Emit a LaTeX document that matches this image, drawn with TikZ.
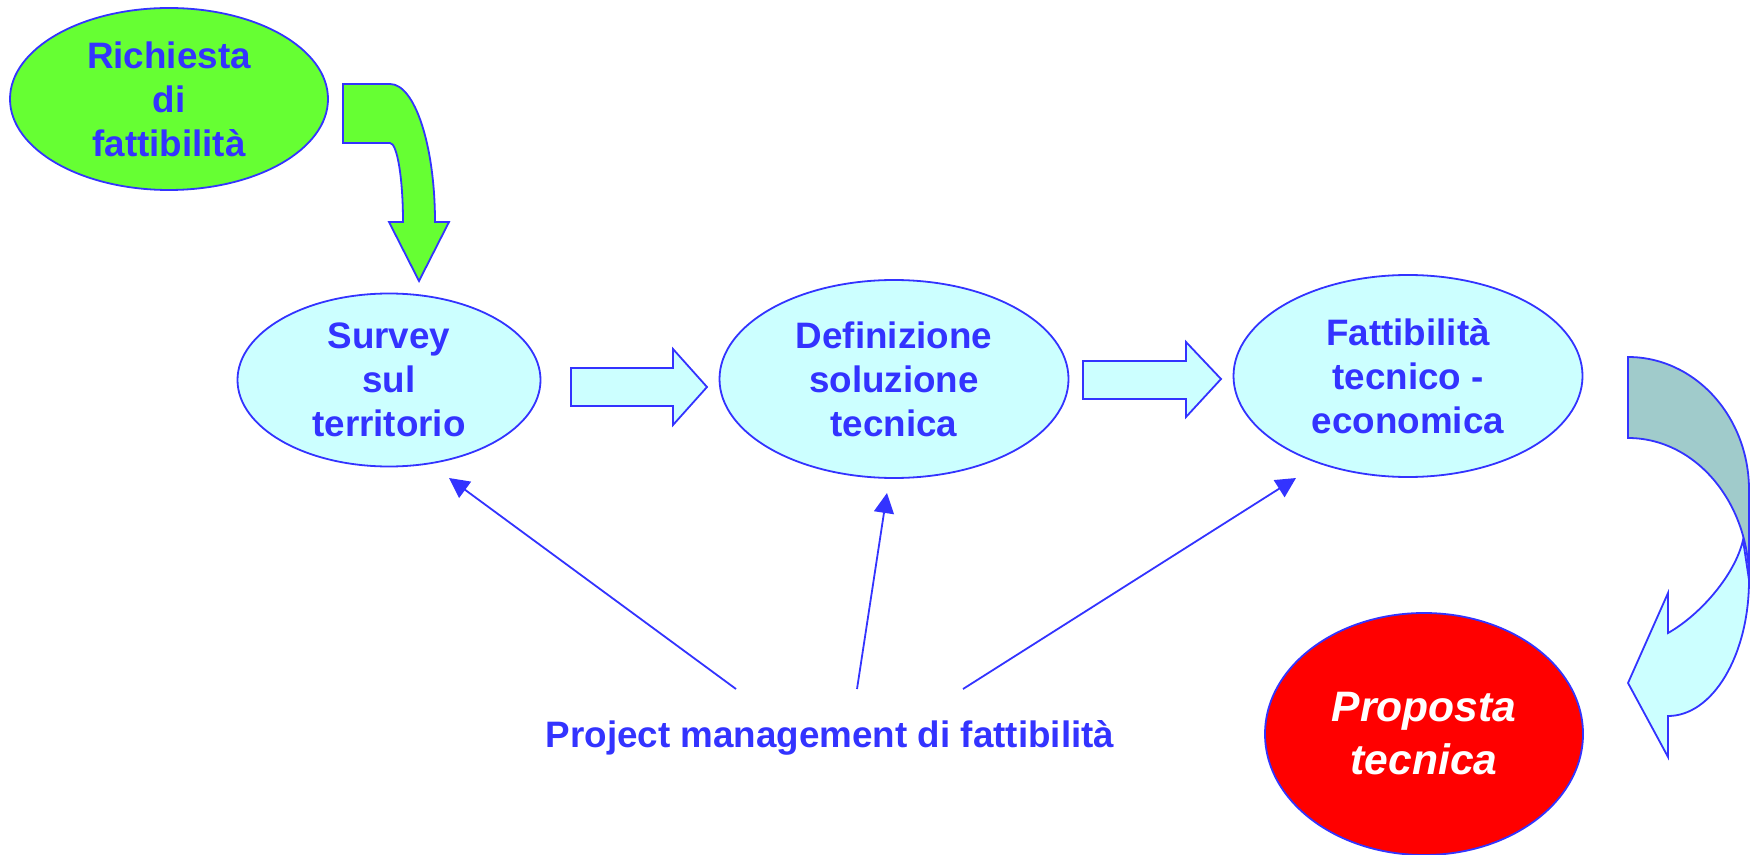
\documentclass[tikz,border=0pt]{standalone}
\usepackage{fontspec}
\setmainfont{Liberation Sans}
\usetikzlibrary{shapes.geometric,arrows.meta}
\definecolor{pmblue}{RGB}{51,51,255}
\definecolor{reqgreen}{RGB}{102,255,51}
\definecolor{stepcyan}{RGB}{204,255,255}
\definecolor{backteal}{RGB}{160,203,203}
\definecolor{propred}{RGB}{255,0,0}
\tikzset{
    bubble/.style={ellipse, draw=pmblue, line width=0.9pt, fill=stepcyan,
                   inner sep=0pt, align=center, text=pmblue,
                   font=\fontsize{18.4}{22}\selectfont\bfseries},
    bigarrow/.style={draw=pmblue, line width=0.9pt, line join=miter},
    pmarrow/.style={draw=pmblue, line width=0.9pt,
                    -{Triangle[length=10pt,width=10pt]}}
}

\begin{document}
\begin{tikzpicture}[x=0.5pt,y=0.5pt]
    \useasboundingbox (0,0) rectangle (1754,-855);
    % the phases
    \node[bubble, fill=reqgreen, minimum width=159pt, minimum height=91pt] (req) at (169,-99) {Richiesta\\di\\fattibilità};
    \node[bubble, minimum width=151.5pt, minimum height=86.5pt] (survey) at (389,-380) {Survey\\sul\\territorio};
    \node[bubble, minimum width=174.5pt, minimum height=99pt] (sol) at (894,-379) {Definizione\\soluzione\\tecnica};
    \node[bubble, minimum width=174.5pt, minimum height=101pt] (fatt) at (1408,-376) {Fattibilità\\tecnico -\\economica};
    \node[bubble, fill=propred, text=white, minimum width=159pt, minimum height=121pt,
          font=\fontsize{21.3}{26.5}\selectfont\bfseries\itshape] (prop) at (1424,-734) {Proposta\\tecnica};
    \node[text=pmblue, font=\fontsize{18.4}{22}\selectfont\bfseries] (pm) at (830,-738) {Project management di fattibilità};
    % green bent arrow
    \draw[bigarrow, fill=reqgreen] (343,-84) -- (390,-84) arc[start angle=90, end angle=0, x radius=45, y radius=138]
        -- (449,-222) -- (419,-281) -- (389,-222) -- (403,-222)
        arc[start angle=0, end angle=90, x radius=13, y radius=79] -- (343,-143) -- cycle;
    % straight block arrows
    \draw[bigarrow, fill=stepcyan] (571,-368) -- (673,-368) -- (673,-349) -- (707,-387) -- (673,-425) -- (673,-406) -- (571,-406) -- cycle;
    \draw[bigarrow, fill=stepcyan] (1083,-361) -- (1186,-361) -- (1186,-342) -- (1221,-379) -- (1186,-417) -- (1186,-399) -- (1083,-399) -- cycle;
    % curved arrow down to the proposal
    \draw[bigarrow, fill=stepcyan] (1743,-540) .. controls (1735,-575) and (1700,-615) .. (1668,-633)
        -- (1668,-593) -- (1628,-683) -- (1668,-757) -- (1668,-716)
        arc[start angle=-90, end angle=0, x radius=81, y radius=136] -- cycle;
    \draw[bigarrow, fill=backteal] (1628,-357) arc[start angle=90, end angle=0, x radius=121, y radius=133]
        -- (1749,-580) arc[start angle=0, end angle=90, x radius=121, y radius=142] -- cycle;
    % project management arrows
    \coordinate (pmA) at (736,-689);
    \coordinate (pmB) at (857,-689);
    \coordinate (pmC) at (963,-689);
    \coordinate (tipA) at (449,-478);
    \coordinate (tipB) at (887,-493);
    \coordinate (tipC) at (1296,-478);
    \foreach \s/\t in {pmA/tipA, pmB/tipB, pmC/tipC}
        \draw[pmarrow] (\s) -- (\t);
\end{tikzpicture}
\end{document}
